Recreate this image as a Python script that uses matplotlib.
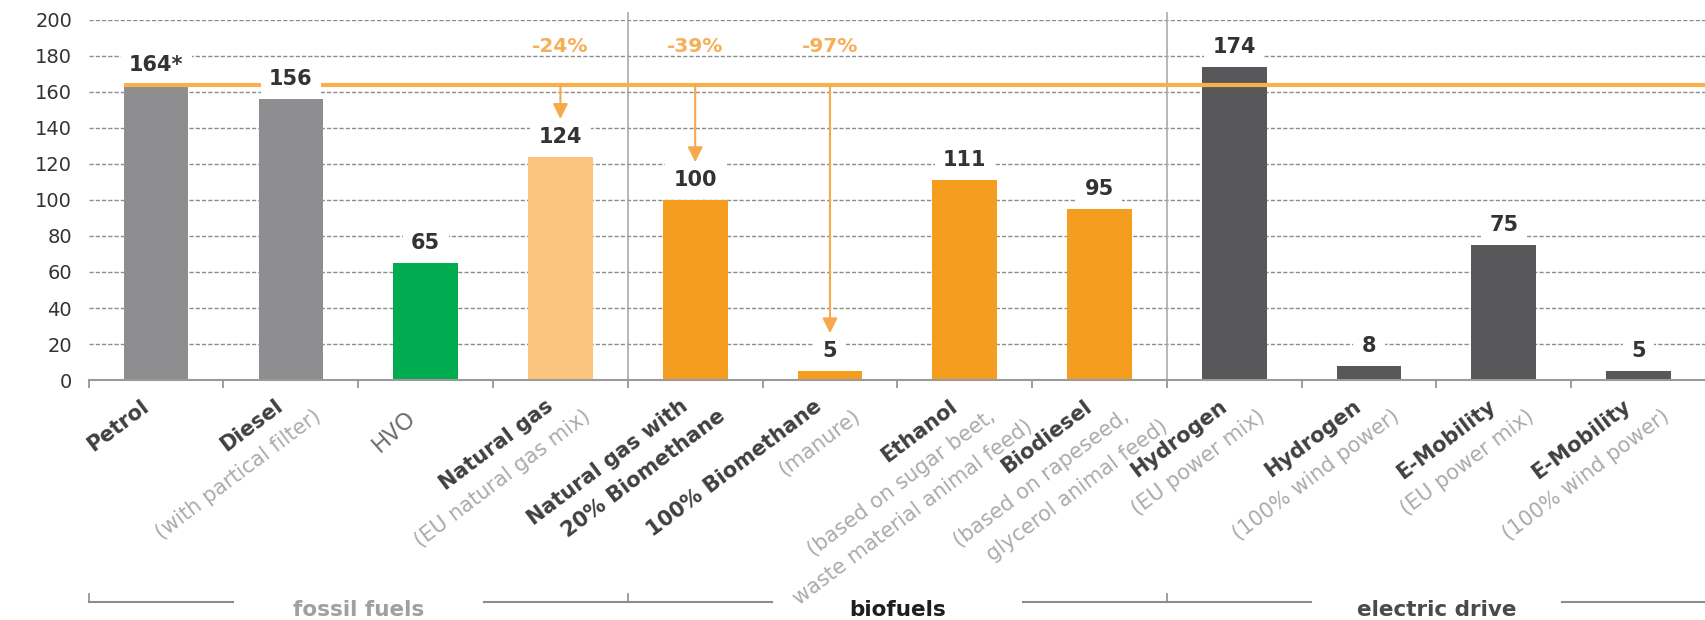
import matplotlib
matplotlib.use("Agg")
import matplotlib.pyplot as plt
import matplotlib.transforms as mtransforms
import numpy as np

plt.rcParams['font.family'] = ['DejaVu Sans']

# --- data ---
names = ["Petrol", "Diesel", "HVO", "Natural gas", "Natural gas with\n20% Biomethane",
         "100% Biomethane", "Ethanol", "Biodiesel", "Hydrogen", "Hydrogen",
         "E-Mobility", "E-Mobility"]
notes = ["", "(with partical filter)", "", "(EU natural gas mix)", "",
         "(manure)", "(based on sugar beet,\nwaste material animal feed)",
         "(based on rapeseed,\nglycerol animal feed)", "(EU power mix)",
         "(100% wind power)", "(EU power mix)", "(100% wind power)"]
values = [164, 156, 65, 124, 100, 5, 111, 95, 174, 8, 75, 5]
value_labels = ["164*", "156", "65", "124", "100", "5", "111", "95", "174", "8", "75", "5"]
bar_colors = ["#8e8e91", "#8e8e91", "#00ac4f", "#fbc580", "#f59d1f", "#f59d1f",
              "#f59d1f", "#f59d1f", "#58585a", "#58585a", "#58585a", "#58585a"]
groups = ["fossil fuels", "biofuels", "electric drive"]
group_size = 4
reduced = [3, 4, 5]          # bars compared against petrol
reduction_labels = ["-24%", "-39%", "-97%"]
baseline = values[0]

fig = plt.figure(figsize=(17.06, 6.2), dpi=100)
ax = fig.add_axes([0.052, 0.387, 0.948, 0.581])
x = np.arange(len(values))

ax.set_xlim(-0.5, len(values) - 0.5)
ax.set_ylim(0, 200)
ax.set_yticks(np.arange(0, 201, 20))
ax.grid(axis='y', linestyle=(0, (3, 1.5)), color='#8c8c8c', lw=1.0)
ax.set_axisbelow(True)
for s in ['top', 'right', 'left']:
    ax.spines[s].set_visible(False)
ax.spines['bottom'].set_color('#9a9a9a')
ax.spines['bottom'].set_linewidth(1.5)
ax.spines['bottom'].set_zorder(6)
ax.set_xticks(np.arange(-0.5, len(values), 1))
ax.set_xticklabels([])
ax.tick_params(axis='x', length=6, width=1.2, color='#8c8c8c', direction='out')
ax.tick_params(axis='y', length=0, pad=12, labelsize=14, labelcolor='#333333')

ax.bar(x, values, width=0.48, color=bar_colors, zorder=2)

# petrol reference line and reduction arrows
ax.hlines(baseline, x[0] - 0.24, len(values) - 0.5, color='#f7b04a', lw=3, zorder=4)
for i, lab in zip(reduced, reduction_labels):
    ax.annotate('', xy=(i, values[i] + 21), xytext=(i, baseline),
                arrowprops=dict(arrowstyle='-|>,head_length=0.9,head_width=0.45',
                                color='#f5a94a', lw=1.5, shrinkA=0, shrinkB=0),
                zorder=4)
    ax.text(i, 185, lab, ha='center', va='center', color='#f6ae58',
            fontsize=14.5, fontweight='bold', zorder=5)

# value labels
for xi, v, lab in zip(x, values, value_labels):
    ax.annotate(lab, (xi, v), xytext=(0, 7), textcoords='offset points',
                ha='center', va='bottom', fontsize=15, fontweight='bold',
                color='#333333', zorder=5,
                bbox=dict(boxstyle='square,pad=0.4', fc='white', ec='none'))

# group separators
for b in [group_size - 0.5, 2 * group_size - 0.5]:
    ax.plot([b, b], [0, 204], color='#aaaaaa', lw=1.2, clip_on=False, zorder=1)

# rotated category labels, dark name + light note
rot = 37
for i, (name, note) in enumerate(zip(names, notes)):
    if name == "HVO":
        ax.annotate(name, (i, 0), xytext=(-31, -52), textcoords='offset pixels',
                    rotation=42, rotation_mode='anchor', ha='center', va='center',
                    fontsize=17, color='#6a6a6a', family='Noto Sans',
                    annotation_clip=False)
        continue
    lines = [(l, '#404040', 'bold') for l in name.split("\n")]
    if note:
        lines += [(l, '#ababab', 'normal') for l in note.split("\n")]
    for k, (txt, col, wt) in enumerate(lines):
        ax.annotate(txt, (i, 0), xytext=(-10 + 38 * k, -24 - 10 * k),
                    textcoords='offset pixels', rotation=rot, rotation_mode='anchor',
                    ha='right', va='center', fontsize=15, color=col,
                    fontweight=wt, annotation_clip=False)

# group brackets along the bottom
trans = mtransforms.blended_transform_factory(ax.transData, ax.transAxes)
gap = 0.93
line_y = -0.617
group_styles = [('#a0a0a0', 'bold'), ('#1e1e1e', 'bold'), ('#4a4a4a', 'bold')]
for g, gname in enumerate(groups):
    left = g * group_size - 0.5
    right = left + group_size
    mid = (left + right) / 2
    ax.plot([left, mid - gap], [line_y, line_y], color='#8c8c8c', lw=1.5,
            transform=trans, clip_on=False)
    ax.plot([mid + gap, right], [line_y, line_y], color='#8c8c8c', lw=1.5,
            transform=trans, clip_on=False)
    ax.plot([left, left], [line_y, line_y + 0.022], color='#8c8c8c', lw=1.2,
            transform=trans, clip_on=False)
    ax.text(mid, line_y - 0.02, gname, transform=trans, ha='center', va='center',
            fontsize=15.5, color=group_styles[g][0], fontweight=group_styles[g][1])

fig.savefig("out.png", dpi=100)
